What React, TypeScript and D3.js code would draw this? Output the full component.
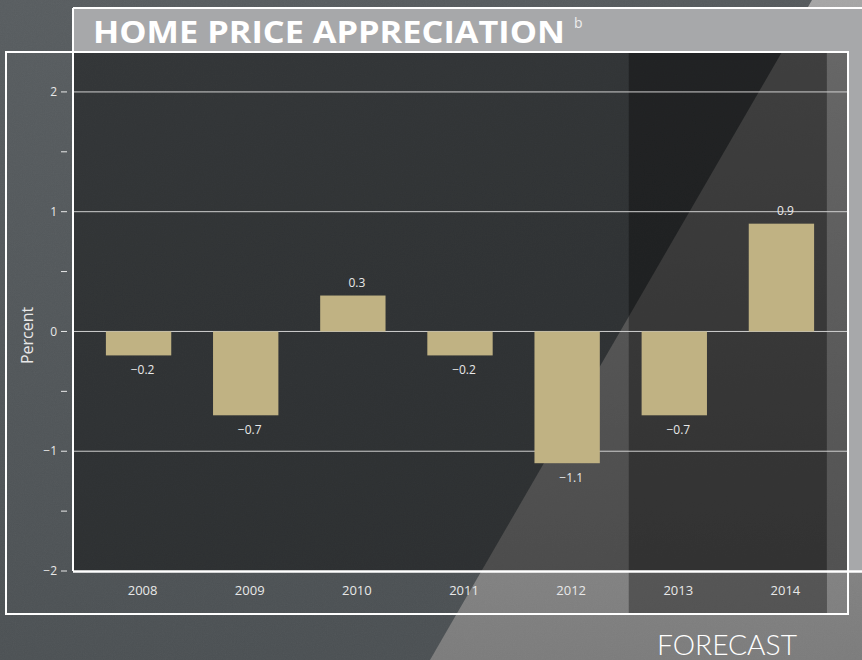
import React from "react";
import * as d3 from "d3";

// values
const years = ["2008", "2009", "2010", "2011", "2012", "2013", "2014"];
const appreciation = [-0.2, -0.7, 0.3, -0.2, -1.1, -0.7, 0.9];
const forecastYears = ["2013", "2014"];
const yMajor = [-2, -1, 0, 1, 2];
const yMinor = [-1.5, -0.5, 0.5, 1.5];

const W = 862;
const H = 660;
const FONT = "'Open Sans', 'Noto Sans', sans-serif";
const BAR = "#c0b283";
const TXT = "#e8e8e8";

const minus = (v: number) => (v < 0 ? "\u2212" : "") + d3.format(".1f")(Math.abs(v));
const tickFmt = (v: number) => (v < 0 ? "\u2212" : "") + Math.abs(v);

export default function App() {
  const x = d3
    .scaleBand<string>()
    .domain(years)
    .range([85, 835])
    .paddingInner(0.39)
    .paddingOuter(0.195);
  const y = d3.scaleLinear().domain([-2, 2.325]).range([571, 53]);

  const cx = (yr: string) => (x(yr) ?? 0) + x.bandwidth() / 2;
  const fMid = (cx(forecastYears[0]) + cx(forecastYears[1])) / 2;
  const fHalf = x.step() * 0.925;

  const plotLeft = 74;
  const plotRight = 848;
  const plotTop = y.range()[1];
  const plotBottom = y.range()[0];

  return (
    <svg width={W} height={H} style={{ display: "block", position: "absolute", left: 0, top: 0 }}>
      <defs>
        <linearGradient id="bg" x1="0" y1="0" x2="0.3" y2="1">
          <stop offset="0" stopColor="#585d60" />
          <stop offset="1" stopColor="#4b5053" />
        </linearGradient>
        <linearGradient id="light" x1="0" y1="0" x2="0" y2="1">
          <stop offset="0" stopColor="#a6a6a6" />
          <stop offset="0.6" stopColor="#8c8c8c" />
          <stop offset="1" stopColor="#7c7c7c" />
        </linearGradient>
        <filter id="grain" x="0" y="0" width="100%" height="100%">
          <feTurbulence type="fractalNoise" baseFrequency="0.9" numOctaves="2" seed="3" />
          <feColorMatrix type="saturate" values="0" />
        </filter>
      </defs>

      {/* stone background */}
      <rect x={0} y={0} width={W} height={H} fill="url(#bg)" />
      <polygon points="430,660 812,0 862,0 862,660" fill="url(#light)" />
      <rect x={0} y={0} width={W} height={H} filter="url(#grain)" opacity={0.05} />

      {/* title panel */}
      <rect x={73} y={8} width={W - 73 + 2} height={44} fill="#a7a8aa" />
      <rect x={plotRight} y={52} width={W - plotRight} height={plotBottom - 52} fill="#a7a8aa" />
      <line x1={73} x2={W} y1={8} y2={8} stroke="#fff" strokeWidth={2} />

      {/* plot area */}
      <rect x={plotLeft} y={plotTop} width={826 - plotLeft} height={plotBottom - plotTop} fill="#000" opacity={0.41} />
      <rect x={826} y={plotTop} width={plotRight - 826} height={plotBottom - plotTop} fill="#000" opacity={0.37} />
      <rect x={fMid - fHalf} y={plotTop} width={fHalf * 2} height={614 - plotTop} fill="#000" opacity={0.34} />

      {/* gridlines */}
      {yMajor
        .filter((v) => v > -2)
        .map((v) => (
          <line key={v} x1={plotLeft} x2={plotRight} y1={y(v)} y2={y(v)} stroke="#cfcfcf" strokeWidth={1} />
        ))}

      {/* bars */}
      {years.map((yr, i) => {
        const v = appreciation[i];
        return (
          <rect
            key={yr}
            x={x(yr)}
            y={y(Math.max(0, v))}
            width={x.bandwidth()}
            height={Math.abs(y(v) - y(0))}
            fill={BAR}
          />
        );
      })}

      {/* value labels */}
      {years.map((yr, i) => {
        const v = appreciation[i];
        return (
          <text
            key={yr}
            x={cx(yr) + 4}
            y={v >= 0 ? y(v) - 9 : y(v) + 19}
            textAnchor="middle"
            fontFamily={FONT}
            fontSize={12}
            fill={TXT}
          >
            {minus(v)}
          </text>
        );
      })}

      {/* frames */}
      <line x1={73} x2={73} y1={8} y2={plotBottom} stroke="#fff" strokeWidth={2} />
      <line x1={73} x2={W} y1={plotBottom + 0.5} y2={plotBottom + 0.5} stroke="#fff" strokeWidth={2.5} />
      <rect x={6} y={52} width={plotRight - 6} height={614 - 52} fill="none" stroke="#fff" strokeWidth={2} />

      {/* y axis */}
      {[...yMajor, ...yMinor].map((v) => (
        <line key={"t" + v} x1={61} x2={67} y1={y(v)} y2={y(v)} stroke={TXT} strokeWidth={1} />
      ))}
      {yMajor.map((v) => (
        <text
          key={"l" + v}
          x={57}
          y={y(v)}
          dy="0.35em"
          textAnchor="end"
          fontFamily={FONT}
          fontSize={12}
          fill={TXT}
        >
          {tickFmt(v)}
        </text>
      ))}
      <text
        transform={`translate(33,${y(0) + 4}) rotate(-90)`}
        textAnchor="middle"
        fontFamily={FONT}
        fontSize={16}
        fill={TXT}
      >
        Percent
      </text>

      {/* x axis labels */}
      {years.map((yr) => (
        <text key={yr} x={cx(yr) + 4} y={595} textAnchor="middle" fontFamily={FONT} fontSize={13} fill={TXT}>
          {yr}
        </text>
      ))}

      {/* title */}
      <text
        x={93}
        y={43}
        fontFamily={FONT}
        fontWeight={700}
        fontSize={31}
        fill="#fff"
        textLength={472}
        lengthAdjust="spacingAndGlyphs"
      >
        HOME PRICE APPRECIATION
      </text>
      <text x={574} y={28} fontFamily={FONT} fontSize={14} fill="#eeeeee">
        b
      </text>

      <text
        x={657}
        y={655}
        fontFamily="Lato, 'Open Sans', sans-serif"
        fontWeight={300}
        fontSize={27}
        fill="#fff"
        textLength={140}
        lengthAdjust="spacingAndGlyphs"
      >
        FORECAST
      </text>
    </svg>
  );
}
